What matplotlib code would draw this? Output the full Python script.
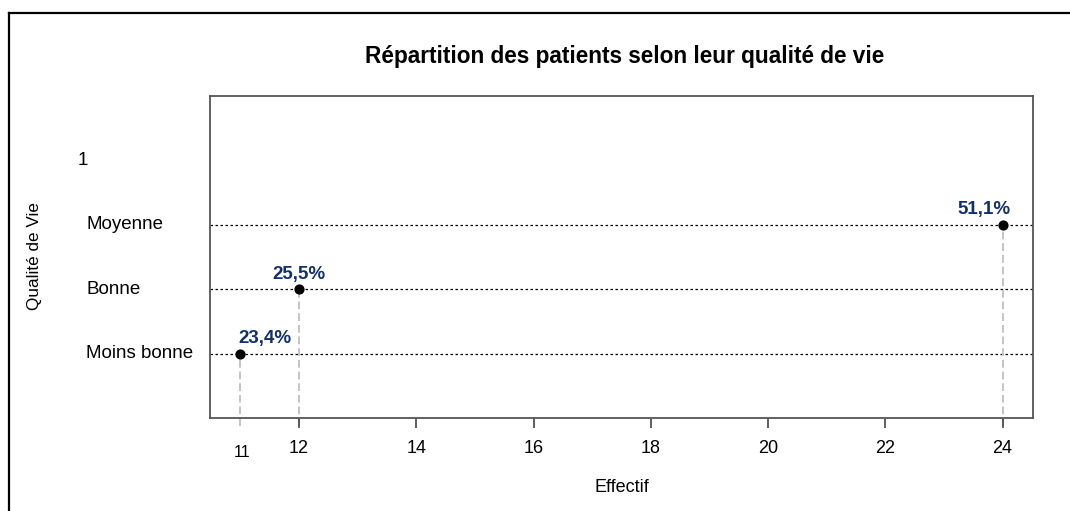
import matplotlib
matplotlib.use("Agg")
import matplotlib.pyplot as plt
from matplotlib.lines import Line2D
from matplotlib.transforms import blended_transform_factory

# data
categories = ["Moins bonne", "Bonne", "Moyenne", "1"]
counts = [11, 12, 24]
pct_labels = ["23,4%", "25,5%", "51,1%"]
x_ticks = [12, 14, 16, 18, 20, 22, 24]

label_color = "#12306e"
label_align = ["left", "center", "right"]  # placement of each % label

plt.rcParams["font.family"] = ["Liberation Sans", "DejaVu Sans"]

W, H = 1070, 511
fig = plt.figure(figsize=(W / 100, H / 100), dpi=100)
ax = fig.add_axes([210 / W, 1 - 418 / H, 823 / W, 322 / H])

ypos = list(range(1, len(categories) + 1))

# dotted reference lines for categories with data
for y in ypos[:len(counts)]:
    ax.axhline(y, color="black", linestyle=(0, (2, 2)), linewidth=0.9, zorder=1)

# grey drop lines from the points down below the axis
for x, y in zip(counts, ypos):
    ax.plot([x, x], [-0.12, y], color="#c4c4c4", linestyle=(0, (4, 2)),
            linewidth=1.4, clip_on=False, zorder=1)

ax.scatter(counts, ypos[:len(counts)], s=40, color="black", zorder=3)

offsets = {"left": -2, "center": 0, "right": 8}  # pixels
for x, y, txt, ha in zip(counts, ypos, pct_labels, label_align):
    ax.annotate(txt, (x, y), xytext=(offsets[ha] * 0.72, 15 * 0.72), textcoords="offset points",
                ha=ha, va="center", fontsize=13.5, fontweight="bold", color=label_color)

ax.set_xlim(10.48, 24.52)
ax.set_ylim(0, 5)
ax.set_xticks(x_ticks)
ax.set_xticklabels([str(t) for t in x_ticks], fontsize=13)
ax.tick_params(axis="x", length=7, width=1.2, color="#444444", pad=9)
ax.set_yticks([])

# category labels on the left, aligned left
lab_tr = blended_transform_factory(fig.transFigure, ax.transData)
for y, c in zip(ypos, categories):
    xoff = 78 if c == "1" else 86
    ax.text(xoff / W, y, c, transform=lab_tr, ha="left", va="center", fontsize=13.5)

# extra "11" label below the axis (no tick)
ax.text(counts[0] + 0.035, -0.53, str(counts[0]), ha="center", va="center",
        fontsize=11.5, clip_on=False)

for s in ax.spines.values():
    s.set_color("#555555")
    s.set_linewidth(1.3)

fig.text(622 / W, 1 - 488 / H, "Effectif", ha="center", va="center", fontsize=13)
fig.text(34 / W, 1 - 256 / H, "Qualité de Vie", ha="center", va="center",
         rotation=90, fontsize=12.3)
fig.text(625 / W, 1 - 57 / H, "Répartition des patients selon leur qualité de vie",
         ha="center", va="center", fontsize=16.3, fontweight="bold")

# outer frame (left and top only)
fig.add_artist(Line2D([9 / W, 9 / W], [0, 1 - 13 / H], transform=fig.transFigure,
                      color="black", linewidth=1.6))
fig.add_artist(Line2D([9 / W, 1], [1 - 13 / H, 1 - 13 / H], transform=fig.transFigure,
                      color="black", linewidth=1.6))

fig.savefig("out.png", dpi=100)
